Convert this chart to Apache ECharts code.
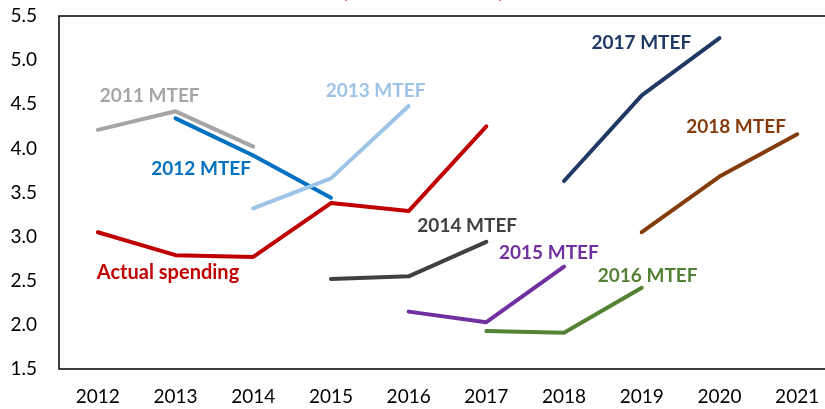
<!DOCTYPE html>
<html>
<head>
<meta charset="utf-8">
<script src="https://cdn.jsdelivr.net/npm/echarts@6/dist/echarts.min.js"></script>
<style>
  html, body { margin: 0; padding: 0; background: #fff; }
  #chart { width: 825px; height: 409px; }
</style>
</head>
<body>
<div id="chart"></div>
<script>
// data
const years = ['2012', '2013', '2014', '2015', '2016', '2017', '2018', '2019', '2020', '2021'];
const yTicks = [1.5, 2.0, 2.5, 3.0, 3.5, 4.0, 4.5, 5.0, 5.5];

const actual   = [3.05, 2.79, 2.77, 3.38, 3.29, 4.25, null, null, null, null];
const mtef2011 = [4.21, 4.42, 4.02, null, null, null, null, null, null, null];
const mtef2012 = [null, 4.34, 3.92, 3.44, null, null, null, null, null, null];
const mtef2013 = [null, null, 3.32, 3.66, 4.48, null, null, null, null, null];
const mtef2014 = [null, null, null, 2.52, 2.55, 2.94, null, null, null, null];
const mtef2015 = [null, null, null, null, 2.15, 2.03, 2.66, null, null, null];
const mtef2016 = [null, null, null, null, null, 1.93, 1.91, 2.42, null, null];
const mtef2017 = [null, null, null, null, null, null, 3.63, 4.60, 5.25, null];
const mtef2018 = [null, null, null, null, null, null, null, 3.05, 3.68, 4.16];

// series: name, values, colour, label anchor (index) and pixel offset of the label
const lines = [
  { name: 'Actual spending', data: actual,   color: '#C00000', at: 0, dx: -1,   dy: 40, size: 20 },
  { name: '2011 MTEF',       data: mtef2011, color: '#A5A5A5', at: 0, dx: 2,    dy: -34 },
  { name: '2012 MTEF',       data: mtef2012, color: '#0070C0', at: 2, dx: -102, dy: 13 },
  { name: '2013 MTEF',       data: mtef2013, color: '#9DC3E6', at: 4, dx: -83,  dy: -15 },
  { name: '2014 MTEF',       data: mtef2014, color: '#404040', at: 5, dx: -69,  dy: -16 },
  { name: '2015 MTEF',       data: mtef2015, color: '#7030A0', at: 6, dx: -65,  dy: -14 },
  { name: '2016 MTEF',       data: mtef2016, color: '#548235', at: 7, dx: -44,  dy: -12 },
  { name: '2017 MTEF',       data: mtef2017, color: '#203864', at: 8, dx: -128, dy: 5 },
  { name: '2018 MTEF',       data: mtef2018, color: '#843C0C', at: 9, dx: -111, dy: -7 },
];

const fontFamily = 'Lato, "Open Sans", sans-serif';

const chart = echarts.init(document.getElementById('chart'));

chart.setOption({
  animation: false,
  title: {
    text: '(Percent of GDP)',
    left: 418,
    top: -25,
    textAlign: 'center',
    textStyle: { color: '#C0504D', fontSize: 22, fontWeight: 'normal', fontFamily: fontFamily },
  },
  grid: {
    left: 59,
    right: -11,
    top: 16,
    bottom: 40,
    show: true,
    borderColor: '#000',
    borderWidth: 1.5,
    outerBoundsMode: 'none',
  },
  xAxis: {
    type: 'category',
    data: years,
    boundaryGap: true,
    axisLine: { show: false },
    axisTick: { show: false },
    axisLabel: { color: '#000', fontSize: 19, fontFamily: fontFamily, margin: 18 },
    splitLine: { show: false },
  },
  yAxis: {
    type: 'value',
    min: yTicks[0],
    max: yTicks[yTicks.length - 1],
    interval: 0.5,
    axisLine: { show: false },
    axisTick: { show: false },
    splitLine: { show: false },
    axisLabel: {
      color: '#000',
      fontSize: 19,
      fontFamily: fontFamily,
      margin: 22,
      formatter: v => v.toFixed(1),
    },
  },
  series: lines.map(s => ({
    name: s.name,
    type: 'line',
    data: s.data,
    showSymbol: false,
    connectNulls: false,
    lineStyle: { color: s.color, width: 4, cap: 'round', join: 'round' },
    itemStyle: { color: s.color },
  })),
});

// labels placed next to a data point of each line
const labels = lines.map(s => {
  const p = chart.convertToPixel({ seriesIndex: 0 }, [s.at, s.data[s.at]]);
  return {
    type: 'text',
    x: p[0] + s.dx,
    y: p[1] + s.dy,
    style: {
      text: s.name,
      fill: s.color,
      font: 'bold ' + (s.size || 19) + 'px ' + fontFamily,
      textAlign: 'left',
      textVerticalAlign: 'middle',
    },
  };
});
chart.setOption({ graphic: labels });
</script>
</body>
</html>
